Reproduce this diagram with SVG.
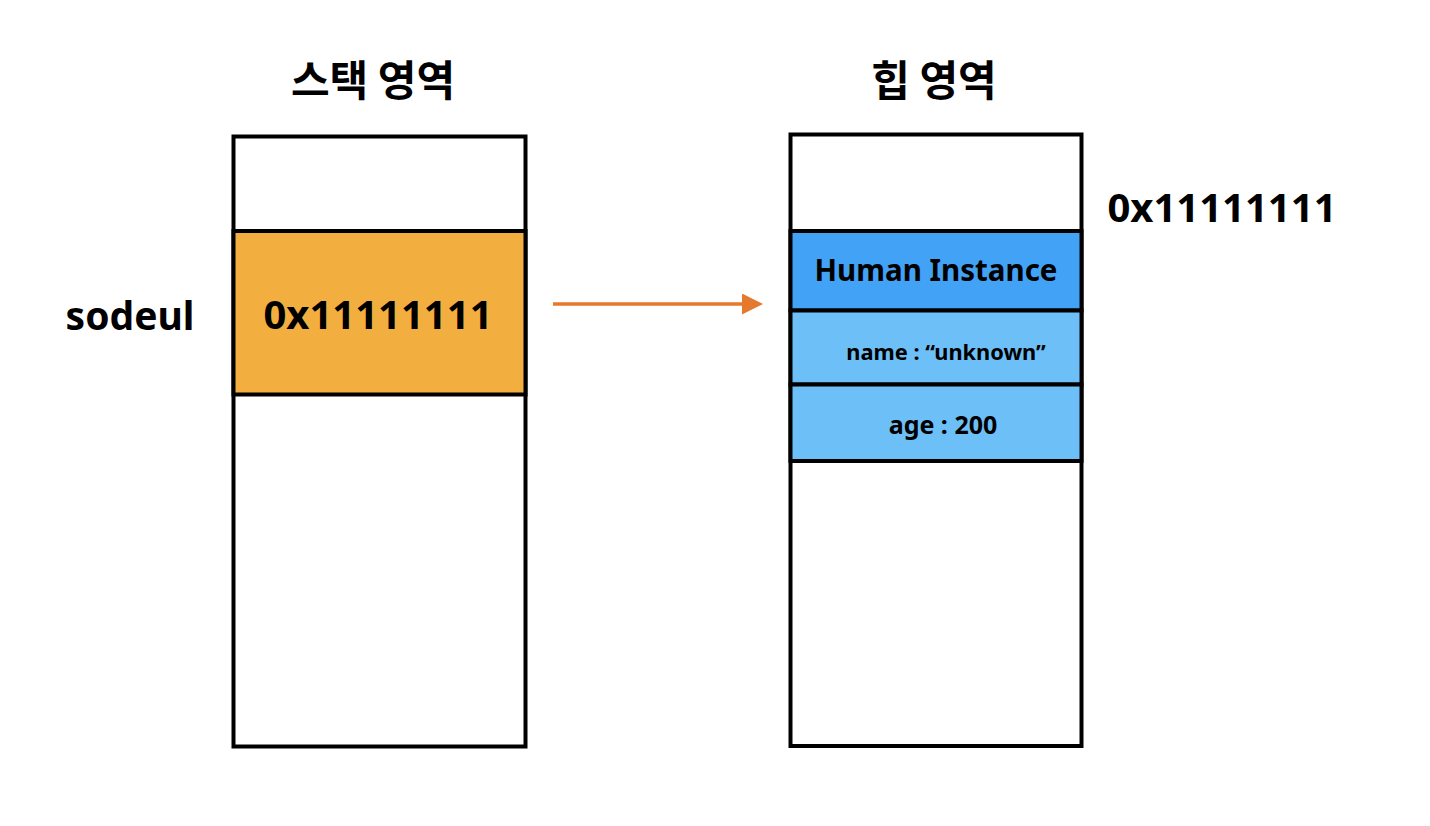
<svg xmlns="http://www.w3.org/2000/svg" width="1430" height="826" viewBox="0 0 1430 826">
<style>
.box{fill:#ffffff;stroke:#000;stroke-width:4}
.cell{stroke:#000;stroke-width:4}
.t{font-family:"Noto Sans","Noto Sans CJK KR",sans-serif;font-weight:bold;fill:#000}
.k{font-family:"Noto Sans CJK KR",sans-serif;font-weight:bold;fill:#000}
</style>
<defs>
<marker id="ah" markerWidth="6" markerHeight="6" refX="0" refY="3" orient="auto" markerUnits="strokeWidth">
<path d="M0,0 L6,3 L0,6 Z" fill="#E57A2E"/>
</marker>
</defs>
<rect width="1430" height="826" fill="#ffffff"/>
<g id="stack-title"><text class="k" x="373" y="96" font-size="42" text-anchor="middle">스택 영역</text></g>
<g id="heap-title"><text class="k" x="934" y="96" font-size="42" text-anchor="middle">힙 영역</text></g>
<g id="stack">
<rect class="box" x="233.5" y="136.5" width="292" height="610"/>
<rect class="cell" x="233.5" y="231" width="292" height="163.5" fill="#F2AF3F"/>
<text class="t" x="378" y="329" font-size="40" text-anchor="middle">0x11111111</text>
</g>
<g id="sodeul-label"><text class="t" x="130" y="330" font-size="39" text-anchor="middle">sodeul</text></g>
<g id="heap">
<rect class="box" x="790.5" y="134.5" width="291" height="611.5"/>
<rect class="cell" x="790.5" y="231" width="291" height="79.5" fill="#42A2F5"/>
<text class="t" x="936" y="281" font-size="29.5" text-anchor="middle">Human Instance</text>
<rect class="cell" x="790.5" y="310.5" width="291" height="74" fill="#6DBFF7"/>
<text class="t" x="946" y="360" font-size="21.8" text-anchor="middle">name : “unknown”</text>
<rect class="cell" x="790.5" y="384.5" width="291" height="76.5" fill="#6DBFF7"/>
<text class="t" x="943" y="434" font-size="25" text-anchor="middle">age : 200</text>
</g>
<g id="address-label"><text class="t" x="1222" y="222" font-size="40" text-anchor="middle">0x11111111</text></g>
<g id="connectors">
<line x1="553" y1="304" x2="742" y2="304" stroke="#E57A2E" stroke-width="3.5" marker-end="url(#ah)"/>
</g>
</svg>
